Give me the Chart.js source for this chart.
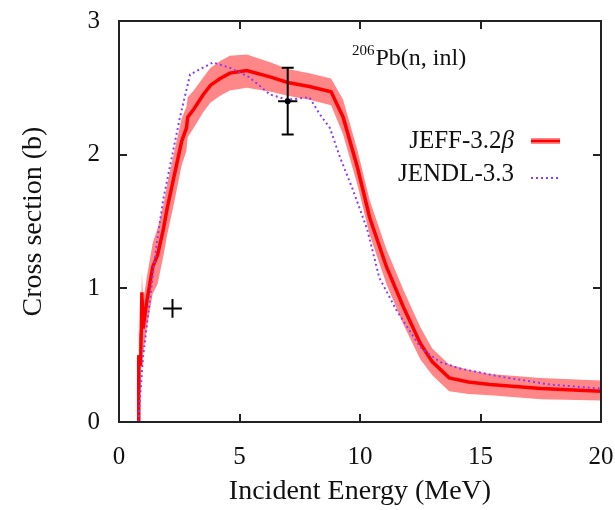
<!DOCTYPE html>
<html><head><meta charset="utf-8">
<script src="https://cdn.jsdelivr.net/npm/chart.js@4.4.1/dist/chart.umd.min.js"></script>
<style>html,body{margin:0;padding:0;background:#fff}canvas{display:block}</style>
</head><body>
<canvas id="c" width="615" height="510"></canvas>
<script>
// ---- data ----
const jeffE   = [0.8, 0.82, 0.9, 0.95, 1.0, 1.15, 1.4, 1.6, 1.85, 2.0, 2.3, 2.6, 2.8, 2.85, 3.1, 3.5, 3.8, 4.2, 4.6, 5.3, 6.3, 7.0, 7.9, 8.8, 9.3, 9.9, 10.4, 11.1, 11.8, 12.5, 13.0, 13.7, 14.5, 15.4, 17.5, 20];
const jeffXS  = [0, 0.5, 0.42, 0.97, 0.7, 0.9, 1.16, 1.25, 1.45, 1.6, 1.85, 2.1, 2.2, 2.28, 2.34, 2.45, 2.52, 2.57, 2.61, 2.63, 2.58, 2.54, 2.51, 2.47, 2.28, 1.9, 1.53, 1.16, 0.86, 0.59, 0.45, 0.33, 0.30, 0.28, 0.25, 0.23];
const jeffLow = [0, 0.3, 0.22, 0.75, 0.5, 0.7, 0.96, 1.03, 1.25, 1.4, 1.65, 1.92, 2.03, 2.13, 2.2, 2.32, 2.39, 2.44, 2.48, 2.5, 2.47, 2.44, 2.41, 2.37, 2.15, 1.77, 1.40, 1.03, 0.73, 0.47, 0.35, 0.23, 0.21, 0.20, 0.17, 0.16];
const jeffHigh= [0.1, 0.7, 0.62, 1.12, 0.9, 1.08, 1.34, 1.45, 1.63, 1.78, 2.03, 2.27, 2.36, 2.43, 2.48, 2.58, 2.65, 2.7, 2.74, 2.75, 2.69, 2.64, 2.61, 2.57, 2.41, 2.03, 1.66, 1.29, 0.99, 0.71, 0.55, 0.43, 0.39, 0.36, 0.33, 0.31];

const jendlE  = [0.8, 1.0, 1.57, 1.83, 2.53, 2.95, 3.9, 4.6, 5.4, 6.27, 7.0, 7.9, 8.3, 8.75, 9.17, 9.7, 10.3, 10.8, 11.5, 12.5, 13.3, 14.15, 15.8, 17.9, 20];
const jendlXS = [0, 0.49, 1.34, 1.66, 2.28, 2.6, 2.69, 2.65, 2.58, 2.45, 2.41, 2.43, 2.31, 2.2, 1.98, 1.74, 1.44, 1.08, 0.84, 0.56, 0.45, 0.40, 0.34, 0.28, 0.25];

const expE   = [2.22, 7.0];
const expXS  = [0.85, 2.40];
const expDE  = [0.39, 0.4];
const expDXS = [0.07, 0.25];

const xTicks = [0, 5, 10, 15, 20];
const yTicks = [0, 1, 2, 3];

const legendLabels = ['JEFF-3.2', 'JENDL-3.3'];
const titleIso = '206';
const titleText = 'Pb(n, inl)';

// ---- chart ----
const SERIF = '"Liberation Serif", "DejaVu Serif", "Times New Roman", serif';
const RED = '#ff0000';
const BAND = 'rgba(255,0,0,0.47)';
const PURPLE = 'rgb(140,60,245)';
const pts = (xs, ys) => xs.map((x, i) => ({x: x, y: ys[i]}));

const framePlugin = {
  id: 'frame',
  afterDatasetsDraw(chart) {
    const {ctx, chartArea: a, scales: {x, y}} = chart;
    ctx.save();
    // experimental points with error bars
    ctx.strokeStyle = '#000'; ctx.fillStyle = '#000'; ctx.lineWidth = 2;
    expE.forEach((e, i) => {
      const px = x.getPixelForValue(e), py = y.getPixelForValue(expXS[i]);
      const x1 = x.getPixelForValue(e - expDE[i]), x2 = x.getPixelForValue(e + expDE[i]);
      const y1 = y.getPixelForValue(expXS[i] - expDXS[i]), y2 = y.getPixelForValue(expXS[i] + expDXS[i]);
      ctx.beginPath();
      ctx.moveTo(x1, py); ctx.lineTo(x2, py);
      ctx.moveTo(px, y1); ctx.lineTo(px, y2);
      const big = (y1 - y2) > 24;
      if (big) {
        ctx.moveTo(px - 6, y1); ctx.lineTo(px + 6, y1);
        ctx.moveTo(px - 6, y2); ctx.lineTo(px + 6, y2);
      }
      ctx.stroke();
      if (big) { ctx.beginPath(); ctx.arc(px, py, 3, 0, Math.PI * 2); ctx.fill(); }
    });
    // border and inward ticks
    ctx.strokeStyle = '#222'; ctx.lineWidth = 2;
    ctx.strokeRect(a.left, a.top, a.right - a.left, a.bottom - a.top);
    ctx.beginPath();
    xTicks.forEach(v => {
      const p = Math.round(x.getPixelForValue(v));
      ctx.moveTo(p, a.bottom); ctx.lineTo(p, a.bottom - 8);
      ctx.moveTo(p, a.top); ctx.lineTo(p, a.top + 8);
    });
    yTicks.forEach(v => {
      const p = Math.round(y.getPixelForValue(v));
      ctx.moveTo(a.left, p); ctx.lineTo(a.left + 8, p);
      ctx.moveTo(a.right, p); ctx.lineTo(a.right - 8, p);
    });
    ctx.stroke();
    // title
    ctx.fillStyle = '#111';
    ctx.textBaseline = 'alphabetic'; ctx.textAlign = 'left';
    ctx.font = '15px ' + SERIF;
    ctx.fillText(titleIso, 352, 55);
    const wIso = ctx.measureText(titleIso).width;
    ctx.font = '24px ' + SERIF;
    ctx.fillText(titleText, 352 + wIso + 1, 65);
    // legend
    const right = 514;
    ctx.font = '25px ' + SERIF;
    const wMain = ctx.measureText(legendLabels[0]).width;
    ctx.font = 'italic 25px ' + SERIF;
    const wBeta = ctx.measureText('β').width;
    ctx.font = '25px ' + SERIF;
    ctx.fillText(legendLabels[0], right - wBeta - wMain, 148);
    ctx.font = 'italic 25px ' + SERIF;
    ctx.fillText('β', right - wBeta, 148);
    ctx.font = '25px ' + SERIF;
    ctx.textAlign = 'right';
    ctx.fillText(legendLabels[1], right, 181);
    // legend samples
    ctx.lineCap = 'butt';
    ctx.strokeStyle = BAND; ctx.lineWidth = 6;
    ctx.beginPath(); ctx.moveTo(531, 141); ctx.lineTo(560, 141); ctx.stroke();
    ctx.strokeStyle = RED; ctx.lineWidth = 2.5;
    ctx.beginPath(); ctx.moveTo(531, 141); ctx.lineTo(560, 141); ctx.stroke();
    ctx.strokeStyle = PURPLE; ctx.lineWidth = 2; ctx.setLineDash([2, 3]);
    ctx.beginPath(); ctx.moveTo(531, 178); ctx.lineTo(560, 178); ctx.stroke();
    ctx.restore();
  }
};

new Chart(document.getElementById('c'), {
  type: 'line',
  data: {
    datasets: [
      { data: pts(jeffE, jeffLow), borderWidth: 0, borderColor: 'rgba(0,0,0,0)', pointRadius: 0, fill: false, order: 3 },
      { data: pts(jeffE, jeffHigh), borderWidth: 0, borderColor: 'rgba(0,0,0,0)', backgroundColor: BAND, pointRadius: 0, fill: '-1', order: 2 },
      { data: pts(jeffE, jeffXS), borderColor: RED, borderWidth: 3.5, pointRadius: 0, fill: false, order: 1 },
      { data: pts(jendlE, jendlXS), borderColor: PURPLE, borderWidth: 2, borderDash: [2, 3], pointRadius: 0, fill: false, order: 0 }
    ]
  },
  options: {
    responsive: false,
    animation: false,
    layout: { padding: { top: 21, right: 14, left: 0, bottom: 0 } },
    elements: { line: { tension: 0 } },
    plugins: { legend: { display: false }, tooltip: { enabled: false } },
    scales: {
      x: {
        type: 'linear', min: 0, max: 20,
        afterBuildTicks: s => { s.ticks = xTicks.map(v => ({value: v})); },
        afterFit: s => { s.height = 88; s.paddingLeft = 0; s.paddingRight = 0; },
        grid: { display: false, drawTicks: false },
        border: { display: false },
        ticks: { color: '#111', font: { family: SERIF, size: 25 }, padding: 20, maxRotation: 0 },
        title: { display: true, text: 'Incident Energy (MeV)', color: '#111', font: { family: SERIF, size: 28 }, padding: { bottom: 2 } }
      },
      y: {
        type: 'linear', min: 0, max: 3,
        afterBuildTicks: s => { s.ticks = yTicks.map(v => ({value: v})); },
        afterFit: s => { s.width = 119; s.paddingTop = 0; s.paddingBottom = 0; },
        grid: { display: false, drawTicks: false },
        border: { display: false },
        ticks: { color: '#111', font: { family: SERIF, size: 25 }, padding: 19 },
        title: { display: true, text: 'Cross section (b)', color: '#111', font: { family: SERIF, size: 28 }, padding: { top: 17 } }
      }
    }
  },
  plugins: [framePlugin]
});
</script>
</body></html>
